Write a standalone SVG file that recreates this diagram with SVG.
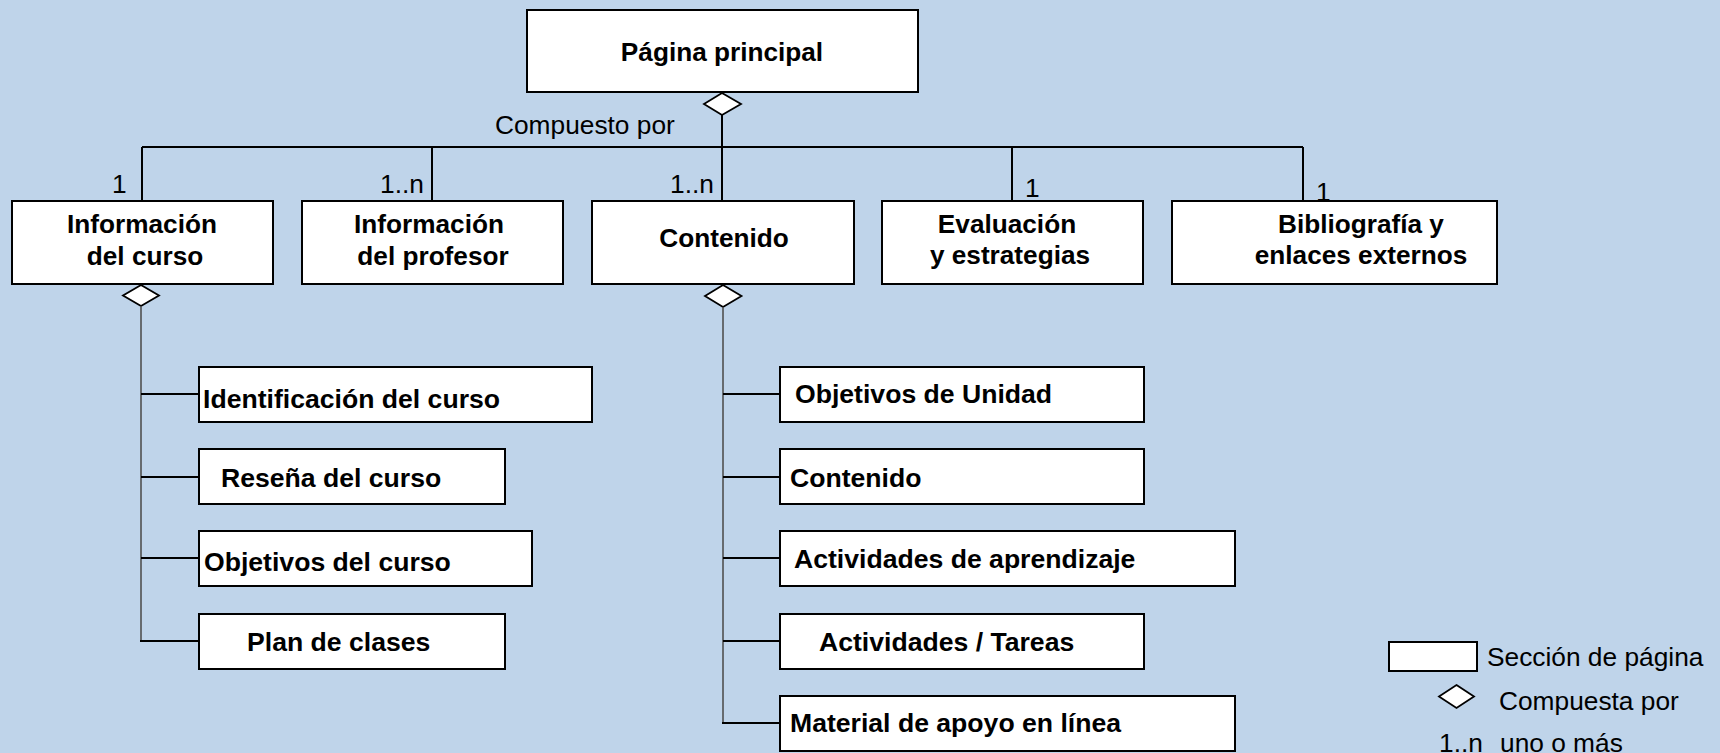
<svg xmlns="http://www.w3.org/2000/svg" width="1720" height="753" viewBox="0 0 1720 753">
<style>
.bg{fill:#BFD4EA}
.box{fill:#fff;stroke:#000;stroke-width:2}
.dia{fill:#fff;stroke:#000;stroke-width:1.8}
.ln{fill:none;stroke:#000;stroke-width:2}
.gl{fill:none;stroke:#505050;stroke-width:1.6}
text{font-family:"Liberation Sans",Arial,sans-serif;fill:#000}
.b{font-weight:bold;font-size:26.6px}
.bc{font-weight:bold;font-size:26.2px;text-anchor:middle}
.r{font-size:26.3px}
</style>
<rect class="bg" x="0" y="0" width="1720" height="753"/>

<g id="connectors">
  <polygon class="dia" points="722,93 741,104 722,115 704,104"/>
  <line class="ln" x1="722" y1="115" x2="722" y2="147"/>
  <line class="ln" x1="142" y1="147" x2="1303" y2="147"/>
  <line class="ln" x1="142" y1="147" x2="142" y2="201"/>
  <line class="ln" x1="432" y1="147" x2="432" y2="201"/>
  <line class="ln" x1="722" y1="147" x2="722" y2="201"/>
  <line class="ln" x1="1012" y1="147" x2="1012" y2="201"/>
  <line class="ln" x1="1303" y1="147" x2="1303" y2="201"/>
  <text class="r" x="495" y="134">Compuesto por</text>
  <text class="r" x="112" y="193">1</text>
  <text class="r" x="380" y="193">1..n</text>
  <text class="r" x="670" y="193">1..n</text>
  <text class="r" x="1025" y="197">1</text>
  <text class="r" x="1316" y="201">1</text>

  <polygon class="dia" points="141,285 159,295.5 141,306 123,295.5"/>
  <line class="gl" x1="141" y1="306" x2="141" y2="641"/>
  <line class="ln" x1="141" y1="394" x2="199" y2="394"/>
  <line class="ln" x1="141" y1="477" x2="199" y2="477"/>
  <line class="ln" x1="141" y1="558" x2="199" y2="558"/>
  <line class="ln" x1="140" y1="641" x2="199" y2="641"/>

  <polygon class="dia" points="723,285 741.5,296 723,307 705,296"/>
  <line class="gl" x1="723" y1="307" x2="723" y2="723"/>
  <line class="ln" x1="723" y1="394" x2="780" y2="394"/>
  <line class="ln" x1="723" y1="477" x2="780" y2="477"/>
  <line class="ln" x1="723" y1="558" x2="780" y2="558"/>
  <line class="ln" x1="723" y1="641" x2="780" y2="641"/>
  <line class="ln" x1="722" y1="723" x2="780" y2="723"/>
</g>

<g id="pagina-principal">
  <rect class="box" x="527" y="10" width="391" height="82"/>
  <text class="bc" x="722" y="61">Página principal</text>
</g>

<g id="info-curso">
  <rect class="box" x="12" y="201" width="261" height="83"/>
  <text class="bc" x="142" y="233">Información</text>
  <text class="bc" x="145" y="265">del curso</text>
</g>
<g id="info-profesor">
  <rect class="box" x="302" y="201" width="261" height="83"/>
  <text class="bc" x="429" y="233">Información</text>
  <text class="bc" x="433" y="265">del profesor</text>
</g>
<g id="contenido">
  <rect class="box" x="592" y="201" width="262" height="83"/>
  <text class="bc" x="724" y="247">Contenido</text>
</g>
<g id="evaluacion">
  <rect class="box" x="882" y="201" width="261" height="83"/>
  <text class="bc" x="1007" y="233">Evaluación</text>
  <text class="bc" x="1010" y="264">y estrategias</text>
</g>
<g id="bibliografia">
  <rect class="box" x="1172" y="201" width="325" height="83"/>
  <text class="bc" x="1361" y="233">Bibliografía y</text>
  <text class="bc" x="1361" y="264">enlaces externos</text>
</g>

<g id="identificacion">
  <rect class="box" x="199" y="367" width="393" height="55"/>
  <text class="b" x="203" y="408">Identificación del curso</text>
</g>
<g id="resena">
  <rect class="box" x="199" y="449" width="306" height="55"/>
  <text class="b" x="221" y="487">Reseña del curso</text>
</g>
<g id="objetivos-curso">
  <rect class="box" x="199" y="531" width="333" height="55"/>
  <text class="b" x="204" y="571">Objetivos del curso</text>
</g>
<g id="plan-clases">
  <rect class="box" x="199" y="614" width="306" height="55"/>
  <text class="b" x="247" y="651">Plan de clases</text>
</g>

<g id="objetivos-unidad">
  <rect class="box" x="780" y="367" width="364" height="55"/>
  <text class="b" x="795" y="403">Objetivos de Unidad</text>
</g>
<g id="contenido-sub">
  <rect class="box" x="780" y="449" width="364" height="55"/>
  <text class="b" x="790" y="487">Contenido</text>
</g>
<g id="actividades-aprendizaje">
  <rect class="box" x="780" y="531" width="455" height="55"/>
  <text class="b" x="794" y="568">Actividades de aprendizaje</text>
</g>
<g id="actividades-tareas">
  <rect class="box" x="780" y="614" width="364" height="55"/>
  <text class="b" x="819" y="651">Actividades / Tareas</text>
</g>
<g id="material-apoyo">
  <rect class="box" x="780" y="696" width="455" height="55"/>
  <text class="b" x="790" y="732">Material de apoyo en línea</text>
</g>

<g id="legend">
  <rect class="box" x="1389" y="642" width="88" height="29" stroke-width="1.5"/>
  <text class="r" x="1487" y="666">Sección de página</text>
  <polygon class="dia" points="1456.5,685 1474,696.5 1456.5,708 1439,696.5"/>
  <text class="r" x="1499" y="710">Compuesta por</text>
  <text class="r" x="1439" y="752">1..n</text>
  <text class="r" x="1500" y="752">uno o más</text>
</g>
</svg>
